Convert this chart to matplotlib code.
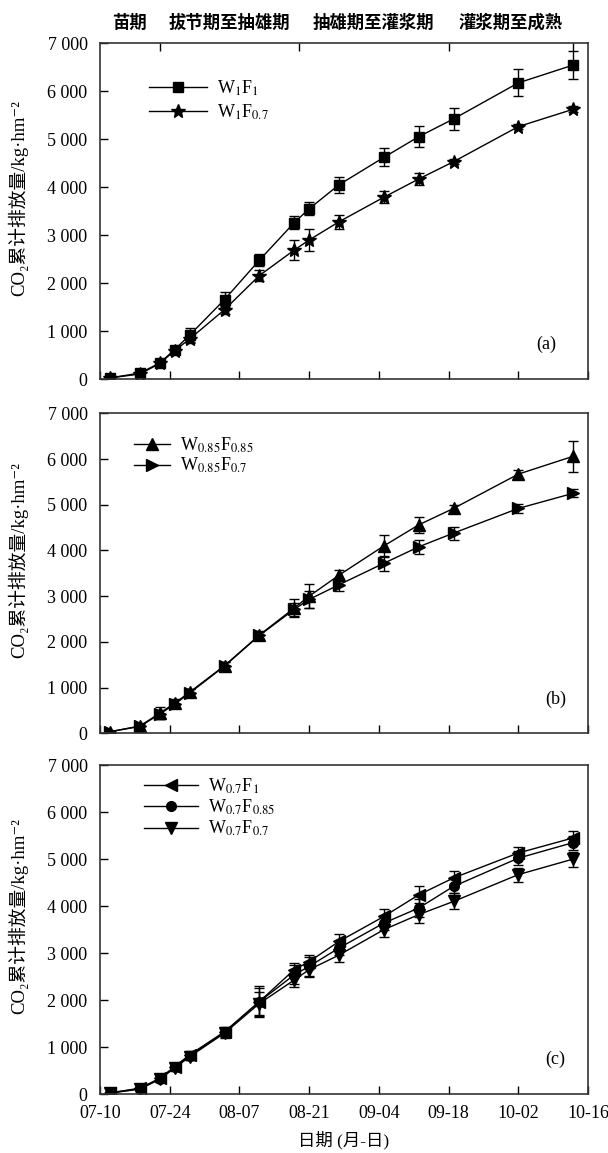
import matplotlib
matplotlib.use("Agg")
import matplotlib.pyplot as plt
import matplotlib.transforms as mtransforms

plt.rcParams['font.family'] = ['Liberation Serif', 'Noto Sans CJK SC', 'DejaVu Serif']
plt.rcParams['mathtext.fontset'] = 'stix'

# ---- data ----
days = [2, 8, 12, 15, 18, 25, 32, 39, 42, 48, 57, 64, 71, 84, 95]  # days after 07-10
xtick_days = [0, 14, 28, 42, 56, 70, 84, 98]
xtick_labels = ['07-10', '07-24', '08-07', '08-21', '09-04', '09-18', '10-02', '10-16']
stage_bounds = [0, 12, 40, 70, 95]
stage_labels = ['苗期', '拔节期至抽雄期', '抽雄期至灌浆期', '灌浆期至成熟']
ytick_vals = [0, 1000, 2000, 3000, 4000, 5000, 6000, 7000]
ytick_labels = ['0', '1 000', '2 000', '3 000', '4 000', '5 000', '6 000', '7 000']

a_w1f1 = [30, 130, 340, 620, 920, 1660, 2480, 3260, 3550, 4050, 4620, 5050, 5420, 6170, 6540]
a_w1f1_err = [30, 50, 60, 80, 140, 160, 120, 140, 140, 170, 190, 220, 230, 280, 290]
a_w1f07 = [30, 110, 330, 600, 840, 1450, 2160, 2690, 2900, 3280, 3790, 4170, 4530, 5260, 5620]
a_w1f07_err = [20, 40, 50, 70, 90, 80, 120, 210, 220, 150, 120, 130, 50, 60, 60]

b_w085f085 = [35, 160, 440, 660, 900, 1480, 2150, 2740, 3000, 3460, 4100, 4560, 4920, 5670, 6060]
b_w085f085_err = [20, 60, 130, 80, 80, 80, 80, 200, 260, 120, 235, 180, 80, 90, 340]
b_w085f07 = [35, 150, 420, 640, 880, 1470, 2140, 2710, 2930, 3250, 3720, 4080, 4380, 4920, 5250]
b_w085f07_err = [20, 50, 100, 80, 80, 80, 80, 150, 180, 130, 160, 160, 140, 100, 90]

c_w07f1 = [30, 130, 340, 590, 840, 1330, 1970, 2650, 2820, 3250, 3780, 4240, 4600, 5130, 5450]
c_w07f1_err = [20, 50, 80, 80, 80, 100, 330, 150, 150, 150, 150, 180, 150, 130, 150]
c_w07f085 = [30, 120, 330, 580, 820, 1320, 1970, 2540, 2720, 3110, 3640, 3960, 4420, 5020, 5350]
c_w07f085_err = [20, 50, 70, 70, 80, 100, 300, 200, 200, 150, 150, 200, 150, 150, 150]
c_w07f07 = [25, 110, 320, 560, 800, 1300, 1930, 2430, 2650, 2960, 3500, 3820, 4100, 4670, 5000]
c_w07f07_err = [20, 40, 60, 70, 80, 100, 250, 150, 150, 150, 150, 170, 170, 150, 160]

FS = 13
fig = plt.figure(figsize=(6.08, 11.53), dpi=100)

L, W = 0.1645, 0.8026
axa = fig.add_axes([L, 0.671, W, 0.2917])
axb = fig.add_axes([L, 0.364, W, 0.2775])
axc = fig.add_axes([L, 0.0509, W, 0.2856])

ylab = 'CO₂累计排放量/kg·hm⁻²'

def style(ax, letter, show_x, lx):
    ax.set_xlim(0, 98)
    ax.set_ylim(0, 7000)
    ax.set_xticks(xtick_days)
    ax.set_xticklabels(xtick_labels if show_x else [])
    ax.set_yticks(ytick_vals)
    ax.set_yticklabels(ytick_labels)
    ax.tick_params(direction='in', length=6, width=1, labelsize=FS)
    ax.tick_params(axis='y', pad=9)
    ax.tick_params(axis='x', pad=8)
    for s in ax.spines.values():
        s.set_linewidth(1.2)
        s.set_color('#333333')
    ax.set_ylabel(ylab, fontsize=13.5)
    ax.yaxis.set_label_coords(-0.148, 0.54)
    ax.text(lx, 0.105, letter, transform=ax.transAxes, fontsize=FS, ha='center', va='center')

def series(ax, y, e, marker, ms, label):
    ax.errorbar(days, y, yerr=e, color='black', marker=marker, markersize=ms,
                linewidth=1.0, elinewidth=1.0, capsize=3.5, capthick=1.0, label=label)

series(axa, a_w1f1, a_w1f1_err, 's', 7, r'W$_{\mathrm{1}}$F$_{\mathrm{1}}$')
series(axa, a_w1f07, a_w1f07_err, '*', 10, r'W$_{\mathrm{1}}$F$_{\mathrm{0.7}}$')
series(axb, b_w085f085, b_w085f085_err, '^', 8, r'W$_{\mathrm{0.85}}$F$_{\mathrm{0.85}}$')
series(axb, b_w085f07, b_w085f07_err, '>', 8, r'W$_{\mathrm{0.85}}$F$_{\mathrm{0.7}}$')
series(axc, c_w07f1, c_w07f1_err, '<', 8, r'W$_{\mathrm{0.7}}$F$_{\mathrm{1}}$')
series(axc, c_w07f085, c_w07f085_err, 'o', 7, r'W$_{\mathrm{0.7}}$F$_{\mathrm{0.85}}$')
series(axc, c_w07f07, c_w07f07_err, 'v', 8, r'W$_{\mathrm{0.7}}$F$_{\mathrm{0.7}}$')

style(axa, '(a)', False, 0.915)
style(axb, '(b)', False, 0.933)
style(axc, '(c)', True, 0.933)

def leg(ax, anchor, hl, ls):
    h, l = ax.get_legend_handles_labels()
    h = [x[0] for x in h]
    ax.legend(h, l, loc='upper left', bbox_to_anchor=anchor, frameon=False,
              fontsize=FS, handlelength=hl, handletextpad=0.55, labelspacing=ls,
              borderaxespad=0, borderpad=0)

leg(axa, (0.1, 0.895), 3.2, 0.28)
leg(axb, (0.07, 0.93), 2.0, 0.05)
leg(axc, (0.09, 0.965), 3.0, 0.1)

# stage ticks & labels on top of panel (a)
sec = axa.secondary_xaxis('top')
sec.set_xticks(stage_bounds[1:])
sec.set_xticklabels([])
sec.tick_params(direction='in', length=6, width=1)
sec.spines['top'].set_visible(False)
trans = mtransforms.blended_transform_factory(axa.transData, axa.transAxes)
for i, lab in enumerate(stage_labels):
    xm = (stage_bounds[i] + stage_bounds[i + 1]) / 2
    axa.text(xm, 1.06, lab, transform=trans, ha='center', va='center', fontsize=12.5,
             family=['Noto Sans CJK SC'], weight='bold')

axc.set_xlabel('日期 (月-日)', fontsize=12.5, labelpad=6)

fig.savefig('out.png', dpi=100)
